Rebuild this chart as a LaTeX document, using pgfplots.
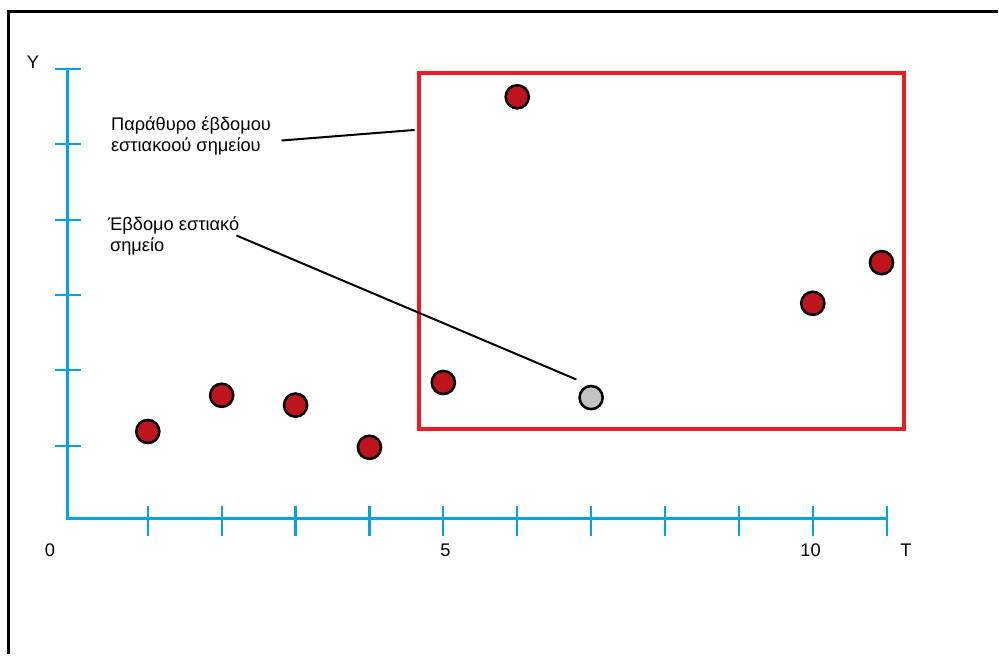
\documentclass[border=0pt]{standalone}
\usepackage{pgfplots}
\pgfplotsset{compat=1.18}
\usepackage{fontspec}
\setmainfont{Liberation Sans}
\definecolor{paintblue}{RGB}{0,162,232}
\definecolor{paintred}{RGB}{237,28,36}
\definecolor{dotred}{RGB}{190,20,30}
\definecolor{dotgray}{RGB}{195,195,195}
\begin{document}
\begin{tikzpicture}[lbl/.style={font=\fontsize{13.7}{16}\selectfont}]
\begin{axis}[
  hide axis, scale only axis,
  width=749.25pt, height=491.25pt,
  xmin=-1, xmax=12.5, ymin=-1.762, ymax=6.914,
  clip=false,
]
\fill[white] (rel axis cs:0,0) rectangle (rel axis cs:1,1);
% outer frame (left and top)
\draw[black, line width=2.25pt] (axis cs:-0.89,-1.762) -- (axis cs:-0.89,6.755) -- (axis cs:12.5,6.755);
% blue axes
\draw[paintblue, line width=2.25pt] (axis cs:-0.081,6.013) -- (axis cs:-0.081,0.04) -- (axis cs:11.02,0.04);
\pgfplotsinvokeforeach{1,...,11}{
  \draw[paintblue, line width=1.6pt] (axis cs:#1,0.2) -- (axis cs:#1,-0.19);
}
\pgfplotsinvokeforeach{1,...,6}{
  \draw[paintblue, line width=1.6pt] (axis cs:-0.26,#1) -- (axis cs:0.1,#1);
}
% labels
\node[lbl] at (axis cs:-0.554,6.09) {Y};
\node[lbl] at (axis cs:-0.324,-0.39) {0};
\node[lbl] at (axis cs:5.03,-0.39) {5};
\node[lbl] at (axis cs:9.97,-0.39) {10};
\node[lbl] at (axis cs:11.26,-0.39) {T};
% red window
\draw[paintred, line width=3pt] (axis cs:4.676,1.22) rectangle (axis cs:11.23,5.95);
% callout lines
\draw[black, line width=1.5pt] (axis cs:2.81,5.05) -- (axis cs:4.61,5.19);
\draw[black, line width=1.5pt] (axis cs:2.20,3.79) -- (axis cs:6.80,1.88);
% callout texts
\node[anchor=base west, inner sep=0pt, lbl] at (axis cs:0.5,5.18) {Παράθυρο έβδομου};
\node[anchor=base west, inner sep=0pt, lbl] at (axis cs:0.5,4.905) {εστιακοού σημείου};
\node[anchor=base west, inner sep=0pt, lbl] at (axis cs:0.46,3.85) {Έβδομο εστιακό};
\node[anchor=base west, inner sep=0pt, lbl] at (axis cs:0.486,3.58) {σημείο};
% points
\addplot[only marks, mark=*, mark size=8.7pt, mark options={draw=black, fill=dotred, line width=1.9pt}]
  coordinates {(1,1.19) (2,1.67) (3,1.54) (4,0.98) (5,1.84) (6,5.63) (10,2.89) (10.93,3.43)};
\addplot[only marks, mark=*, mark size=8.7pt, mark options={draw=black, fill=dotgray, line width=1.9pt}]
  coordinates {(7,1.64)};
\end{axis}
\end{tikzpicture}
\end{document}
